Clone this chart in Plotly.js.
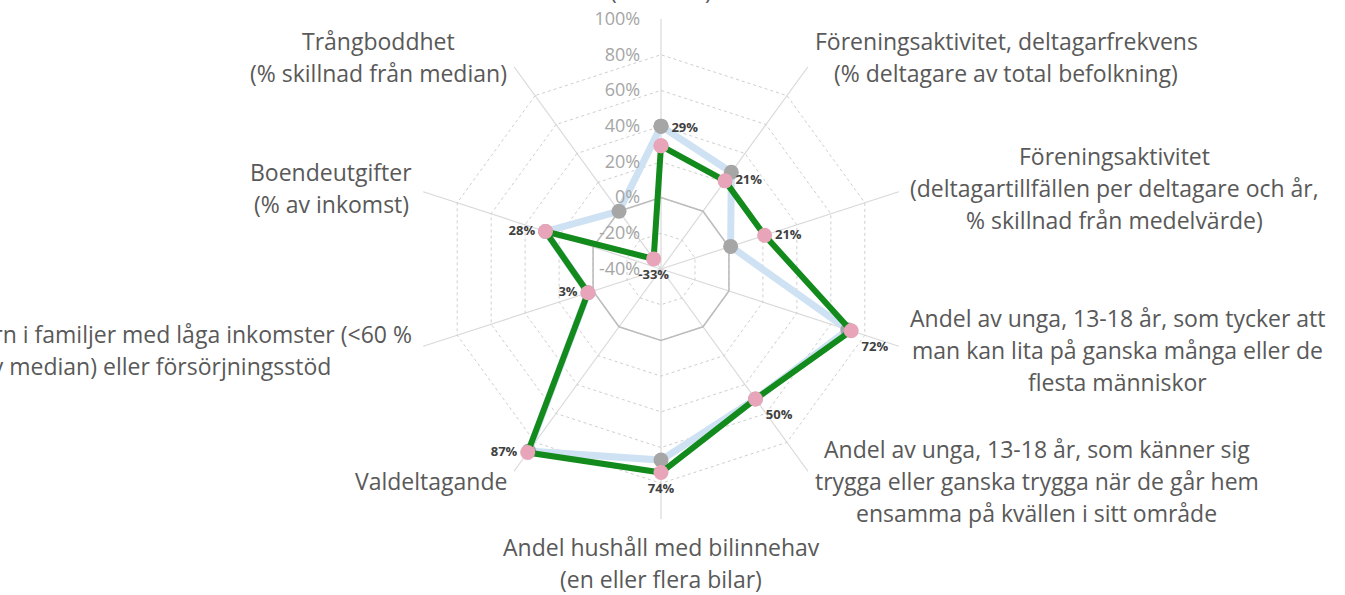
<!DOCTYPE html>
<html>
<head>
<meta charset="utf-8">
<script src="https://cdn.plot.ly/plotly-3.0.1.min.js"></script>
<style>html,body{margin:0;padding:0;background:#fff;overflow:hidden}#chart{width:1345px;height:595px}</style>
</head>
<body>
<div id="chart"></div>
<script>
// ---- data ----
const categories = [
  "Förvärvsfrekvens\n(20-64 år)",
  "Föreningsaktivitet, deltagarfrekvens\n(% deltagare av total befolkning)",
  "Föreningsaktivitet\n(deltagartillfällen per deltagare och år,\n% skillnad från medelvärde)",
  "Andel av unga, 13-18 år, som tycker att\nman kan lita på ganska många eller de\nflesta människor",
  "Andel av unga, 13-18 år, som känner sig\ntrygga eller ganska trygga när de går hem\nensamma på kvällen i sitt område",
  "Andel hushåll med bilinnehav\n(en eller flera bilar)",
  "Valdeltagande",
  "Andel barn i familjer med låga inkomster (<60 %\nav median) eller försörjningsstöd",
  "Boendeutgifter\n(% av inkomst)",
  "Trångboddhet\n(% skillnad från median)"
];
const areaValues = [29, 21, 21, 72, 50, 74, 87, 3, 28, -33];      // green line, pink markers
const referenceValues = [40, 27, 1, 70, 50, 67, 86, 3, 28, 0];  // light blue line, grey markers
const dataLabels = ["29%", "21%", "21%", "72%", "50%", "74%", "87%", "3%", "28%", "-33%"];
const radialTicks = [-40, -20, 0, 20, 40, 60, 80, 100];

// ---- layout constants ----
const W = 1345, H = 595, CX = 661, CY = 269, R = 250;
const LABEL_FONT = 23, LINE_H = 32, LABEL_FAMILY = "Open Sans";
// radial axis starts at -40 %: values are offset so the axis runs from 0 at the centre
const RMIN = radialTicks[0], RMAX = radialTicks[radialTicks.length - 1];
const toR = v => v - RMIN;

function closeLoop(a) { return a.concat([a[0]]); }
const theta = closeLoop(categories);

const labelPositions = ["top right", "middle right", "middle right", "bottom right", "bottom right",
                        "bottom center", "middle left", "middle left", "middle left", "bottom center"];

const traces = [
  {
    type: "scatterpolar", r: closeLoop(categories.map(() => toR(0))), theta: theta,
    mode: "lines", line: {color: "#bdbdbd", width: 1.6}, hoverinfo: "skip", showlegend: false
  },
  {
    type: "scatterpolar", r: closeLoop(referenceValues.map(toR)), theta: theta,
    mode: "lines+markers", line: {color: "#cfe2f3", width: 7},
    marker: {color: "#a6a6a6", size: 15}, hoverinfo: "skip", showlegend: false
  },
  {
    type: "scatterpolar", r: closeLoop(areaValues.map(toR)), theta: theta,
    mode: "lines+markers+text", line: {color: "#138a1c", width: 6},
    marker: {color: "#e8a5ba", size: 15},
    text: closeLoop(dataLabels).map((t, i) => i < dataLabels.length ? t : ""),
    textposition: closeLoop(labelPositions),
    textfont: {family: LABEL_FAMILY, size: 13, color: "#404040", weight: "bold"},
    hoverinfo: "skip", showlegend: false
  }
];

// category label annotations, placed just outside each polygon vertex
const canvas = document.createElement("canvas");
const ctx = canvas.getContext("2d");
ctx.font = LABEL_FONT + "px '" + LABEL_FAMILY + "'";
const annotations = [];
categories.forEach((cat, i) => {
  const ang = i * 2 * Math.PI / categories.length;
  const s = Math.sin(ang), c = Math.cos(ang);
  const ax = CX + (R + 12) * s, ay = CY - (R + 12) * c;
  const lines = cat.split("\n");
  const blockW = Math.max(...lines.map(l => ctx.measureText(l).width));
  let cx = ax;
  if (Math.abs(s) > 0.01) cx = s > 0 ? ax + blockW / 2 : ax - blockW / 2;
  let top;
  if (c > 0.99) top = ay - lines.length * LINE_H - 1;
  else if (c < -0.99) top = ay;
  else top = ay - lines.length * LINE_H / 2;
  lines.forEach((line, k) => {
    annotations.push({
      xref: "paper", yref: "paper", x: cx / W, y: 1 - (top + (k + 0.5) * LINE_H) / H,
      xanchor: "center", yanchor: "middle", showarrow: false, text: line,
      font: {family: LABEL_FAMILY, size: LABEL_FONT, color: "#595959"}
    });
  });
});

const layout = {
  width: W, height: H,
  margin: {l: 0, r: 0, t: 0, b: 0},
  paper_bgcolor: "#ffffff",
  showlegend: false,
  polar: {
    domain: {x: [(CX - R) / W, (CX + R) / W], y: [1 - (CY + R) / H, 1 - (CY - R) / H]},
    bgcolor: "rgba(0,0,0,0)",
    gridshape: "linear",
    radialaxis: {
      range: [0, toR(RMAX)], tickvals: radialTicks.map(toR), ticktext: radialTicks.map(v => v + "%"),
      angle: 90, tickangle: 90, side: "counterclockwise",
      showline: false, ticks: "outside", ticklen: 14, tickcolor: "rgba(0,0,0,0)",
      gridcolor: "#cfcfcf", griddash: "3px,3px", gridwidth: 1,
      tickfont: {family: LABEL_FAMILY, size: 18, color: "#a6a6a6"}
    },
    angularaxis: {
      direction: "clockwise", rotation: 90,
      showticklabels: false, ticks: "", showline: false,
      gridcolor: "#d9d9d9", gridwidth: 1.2
    }
  },
  annotations: annotations
};

Plotly.newPlot("chart", traces, layout, {displayModeBar: false, staticPlot: true});
</script>
</body>
</html>
